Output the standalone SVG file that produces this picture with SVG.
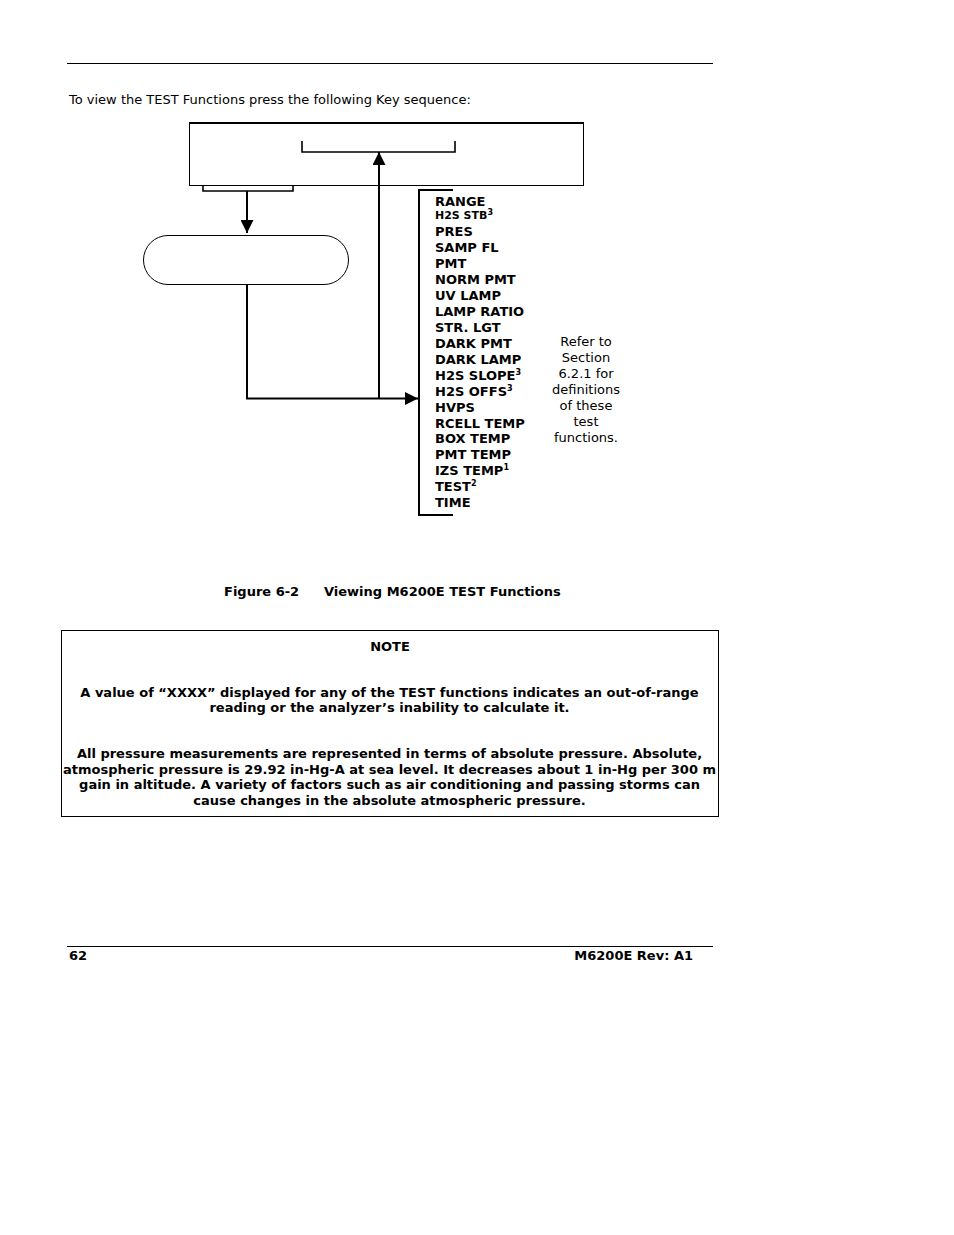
<svg xmlns="http://www.w3.org/2000/svg" width="954" height="1235" viewBox="0 0 954 1235">
<style>
text{font-family:"DejaVu Sans","Verdana",sans-serif;fill:#000}
.r{font-size:13px}
.b{font-size:13px;font-weight:bold}
.s{font-size:11px;font-weight:bold}
.sup{font-size:8px;font-weight:bold}
.ln{stroke:#000;fill:none}
.c{text-anchor:middle}
</style>
<defs>
<marker id="ah" viewBox="0 0 10 10" refX="10" refY="5" markerWidth="15" markerHeight="13" markerUnits="userSpaceOnUse" orient="auto">
<path d="M0,0 L10,5 L0,10 Z" fill="#000"/>
</marker>
</defs>
<rect width="954" height="1235" fill="#fff"/>
<line class="ln" x1="67" y1="63.5" x2="713" y2="63.5" stroke-width="1"/>
<text class="r" x="69" y="104">To view the TEST Functions press the following Key sequence:</text>

<g id="display">
<rect class="ln" x="189.5" y="123.5" width="394" height="62" stroke-width="1"/>
<line class="ln" x1="189" y1="123" x2="584" y2="123" stroke-width="2"/>
<path class="ln" d="M302,141 V152 H455 V141" stroke-width="1.6"/>
</g>

<g id="keybracket">
<path class="ln" d="M203,185 V191 H293 V185" stroke-width="1.6"/>
</g>

<g id="testkey">
<rect class="ln" x="143.5" y="235.5" width="205" height="49" rx="24.5" ry="24.5" stroke-width="1"/>
</g>

<g id="testlist">
<path class="ln" d="M453,190 H419 V515 H453" stroke-width="2"/>
<text class="b" x="435" y="206">RANGE</text>
<text class="s" x="435" y="219">H2S STB<tspan class="sup" dy="-4">3</tspan></text>
<text class="b" x="435" y="236">PRES</text>
<text class="b" x="435" y="252">SAMP FL</text>
<text class="b" x="435" y="268">PMT</text>
<text class="b" x="435" y="284">NORM PMT</text>
<text class="b" x="435" y="300">UV LAMP</text>
<text class="b" x="435" y="316">LAMP RATIO</text>
<text class="b" x="435" y="332">STR. LGT</text>
<text class="b" x="435" y="348">DARK PMT</text>
<text class="b" x="435" y="364">DARK LAMP</text>
<text class="b" x="435" y="380">H2S SLOPE<tspan class="sup" dy="-5">3</tspan></text>
<text class="b" x="435" y="396">H2S OFFS<tspan class="sup" dy="-5">3</tspan></text>
<text class="b" x="435" y="412">HVPS</text>
<text class="b" x="435" y="428">RCELL TEMP</text>
<text class="b" x="435" y="443">BOX TEMP</text>
<text class="b" x="435" y="459">PMT TEMP</text>
<text class="b" x="435" y="475">IZS TEMP<tspan class="sup" dy="-5">1</tspan></text>
<text class="b" x="435" y="491">TEST<tspan class="sup" dy="-5">2</tspan></text>
<text class="b" x="435" y="507">TIME</text>
</g>

<g id="refer">
<text class="r c" x="586" y="346">Refer to</text>
<text class="r c" x="586" y="362">Section</text>
<text class="r c" x="586" y="378">6.2.1 for</text>
<text class="r c" x="586" y="394">definitions</text>
<text class="r c" x="586" y="410">of these</text>
<text class="r c" x="586" y="426">test</text>
<text class="r c" x="586" y="442">functions.</text>
</g>

<g id="connectors">
<line class="ln" x1="247" y1="191" x2="247" y2="233" stroke-width="2" marker-end="url(#ah)"/>
<path class="ln" d="M247,284 V398.5 H418" stroke-width="2" marker-end="url(#ah)"/>
<line class="ln" x1="379" y1="398.5" x2="379" y2="152" stroke-width="2" marker-end="url(#ah)"/>
</g>

<text class="b" x="224" y="596">Figure 6-2</text>
<text class="b" x="324" y="596">Viewing M6200E TEST Functions</text>

<g id="note">
<rect class="ln" x="61.5" y="630.5" width="657" height="186" stroke-width="1"/>
<text class="b c" x="390" y="651">NOTE</text>
<text class="b c" x="389.5" y="697">A value of “XXXX” displayed for any of the TEST functions indicates an out-of-range</text>
<text class="b c" x="389.5" y="712">reading or the analyzer’s inability to calculate it.</text>
<text class="b c" x="389.5" y="758">All pressure measurements are represented in terms of absolute pressure. Absolute,</text>
<text class="b c" x="389.5" y="774">atmospheric pressure is 29.92 in-Hg-A at sea level. It decreases about 1 in-Hg per 300 m</text>
<text class="b c" x="389.5" y="789">gain in altitude. A variety of factors such as air conditioning and passing storms can</text>
<text class="b c" x="389.5" y="805">cause changes in the absolute atmospheric pressure.</text>
</g>

<line class="ln" x1="67" y1="946.5" x2="713" y2="946.5" stroke-width="1"/>
<text class="b" x="69" y="960">62</text>
<text class="b" x="693" y="960" text-anchor="end">M6200E Rev: A1</text>
</svg>
